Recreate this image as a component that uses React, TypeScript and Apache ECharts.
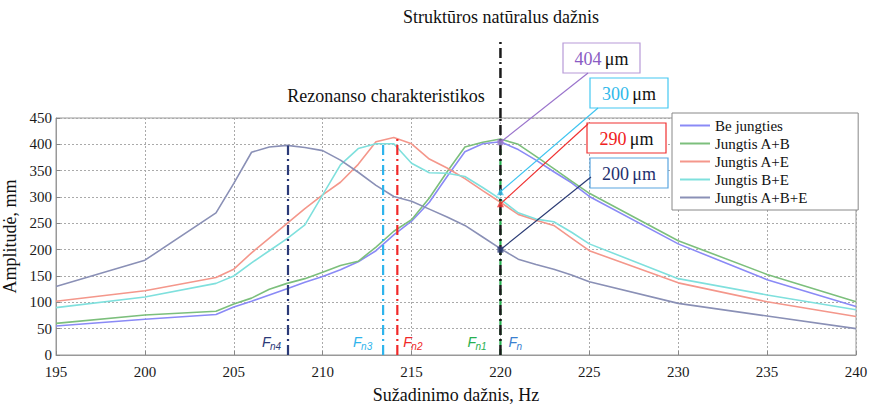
import React, { useEffect, useRef } from "react";
import * as echarts from "echarts";

const frequency = [195, 200, 204, 205, 206, 207, 208, 209, 210, 211, 212, 213, 214, 215, 216, 217, 218, 219, 220, 221, 222, 223, 224, 225, 230, 235, 240];
const beJungties = [55, 68, 77, 91, 102, 114, 126, 138, 149, 162, 177, 198, 228, 254, 290, 339, 386, 401, 405, 390, 370, 348, 327, 301, 211, 143, 92];
const jungtisAB = [60, 76, 83, 97, 108, 125, 136, 145, 157, 170, 178, 205, 235, 257, 298, 348, 395, 404, 410, 400, 377, 354, 330, 307, 217, 153, 101];
const jungtisAE = [102, 122, 147, 163, 194, 222, 250, 278, 304, 328, 362, 405, 413, 401, 372, 355, 335, 312, 290, 267, 256, 246, 222, 198, 137, 101, 73];
const jungtisBE = [90, 110, 136, 150, 175, 198, 221, 247, 304, 361, 392, 401, 401, 364, 346, 345, 339, 318, 296, 270, 258, 253, 233, 211, 145, 114, 86];
const jungtisABE = [130, 180, 270, 326, 385, 395, 398, 394, 388, 370, 347, 322, 301, 292, 277, 262, 246, 224, 202, 182, 172, 163, 152, 139, 98, 74, 50];

const seriesNames = ["Be jungties", "Jungtis A+B", "Jungtis A+E", "Jungtis B+E", "Jungtis A+B+E"];
const seriesColors = ["#8a8af6", "#7cbf7c", "#f4978b", "#7fe0dd", "#8a90b6"];
const seriesValues = [beJungties, jungtisAB, jungtisAE, jungtisBE, jungtisABE];

// resonance frequencies: label subscript, frequency, top amplitude
const resonanceNames = ["n4", "n3", "n2", "n1", "n"];
const resonanceFreq = [208.05, 213.4, 214.2, 220, 220];
const resonanceTop = [398, 401, 413, 410, 450];
const resonanceColors = ["#2b3a78", "#2fb4ec", "#f02828", "#28b050", "#1a1a1a"];
const resonanceLabelColors = ["#2b3a78", "#2fb4ec", "#f02828", "#28b050", "#3a80d0"];

// callouts at 220 Hz
const calloutValues = [404, 310, 287, 200];
const calloutTexts = ["404", "300", "290", "200"];
const calloutColors = ["#9a74cc", "#3ec4f0", "#f03030", "#2a3a74"];
const calloutTextColors = ["#8a5cc4", "#2fb8ea", "#f02020", "#1e2f6e"];
const calloutUnitColors = ["#111", "#111", "#111", "#1e2f6e"];
const calloutBorder = ["#b79ad8", "#45c8f2", "#f03030", "#5aa6e0"];
const calloutSymbols = ["rect", "triangle", "triangle", "rect"];

const SERIF = "Liberation Serif";
const SANS = "Liberation Sans";

export default function App() {
  const ref = useRef<HTMLDivElement>(null);
  useEffect(() => {
    if (!ref.current) return;
    const chart = echarts.init(ref.current, undefined, { renderer: "svg" });
    const dash = [10, 4, 2, 4];
    const series: any[] = seriesNames.map((name, i) => ({
      name,
      type: "line",
      symbol: "none",
      data: frequency.map((f, j) => [f, seriesValues[i][j]]),
      lineStyle: { color: seriesColors[i], width: 1.6 },
      itemStyle: { color: seriesColors[i] },
      z: 3,
    }));
    resonanceFreq.forEach((f, i) => {
      series.push({
        type: "line",
        symbol: "none",
        silent: true,
        data: [
          [f, 0],
          [f, resonanceTop[i]],
        ],
        lineStyle: { color: resonanceColors[i], width: i === 4 ? 2.5 : 2.2, type: i === 3 ? [6, 4] : dash },
        z: i === 4 ? 6 : 5,
      });
    });
    calloutValues.forEach((v, i) => {
      series.push({
        type: "scatter",
        silent: true,
        symbol: calloutSymbols[i],
        symbolSize: calloutSymbols[i] === "rect" ? 6 : 7,
        data: [[220, v]],
        itemStyle: { color: calloutColors[i] },
        z: 8,
      });
    });

    chart.setOption({
      animation: false,
      backgroundColor: "#fff",
      textStyle: { fontFamily: SERIF },
      grid: { left: 56, right: 18, top: 118, bottom: 56, show: true, borderColor: "#999", borderWidth: 1, containLabel: false, outerBoundsMode: "none" },
      xAxis: {
        type: "value",
        min: 195,
        max: 240,
        interval: 5,
        name: "Sužadinimo dažnis, Hz",
        nameLocation: "middle",
        nameGap: 31,
        nameTextStyle: { fontFamily: SERIF, fontSize: 18, color: "#111" },
        axisLine: { show: true, lineStyle: { color: "#999" } },
        axisTick: { show: true, inside: true, length: 4, lineStyle: { color: "#888" } },
        axisLabel: { fontFamily: SERIF, fontSize: 15, color: "#1a1a1a", margin: 9 },
        splitLine: { show: true, lineStyle: { color: "#aaa", type: [2, 2] } },
      },
      yAxis: {
        type: "value",
        min: 0,
        max: 450,
        interval: 50,
        name: "Amplitudė, mm",
        nameLocation: "middle",
        nameGap: 34,
        nameTextStyle: { fontFamily: SERIF, fontSize: 18, color: "#111" },
        axisLine: { show: true, lineStyle: { color: "#999" } },
        axisTick: { show: true, inside: true, length: 4, lineStyle: { color: "#888" } },
        axisLabel: { fontFamily: SERIF, fontSize: 15, color: "#1a1a1a", margin: 4 },
        splitLine: { show: true, lineStyle: { color: "#aaa", type: [2, 2] } },
      },
      legend: {
        data: seriesNames,
        orient: "vertical",
        left: 672,
        top: 113,
        itemWidth: 30,
        itemHeight: 14,
        itemGap: 3,
        padding: [5, 50, 5, 7],
        backgroundColor: "#fff",
        borderColor: "#888",
        borderWidth: 1,
        itemStyle: { opacity: 0 },
        textStyle: { fontFamily: SERIF, fontSize: 15, color: "#111" },
        z: 10,
      },
      series,
    });

    const graphics: any[] = [];
    graphics.push({
      type: "text",
      x: 501,
      y: 17,
      style: { text: "Struktūros natūralus dažnis", fontFamily: SERIF, fontSize: 18, fill: "#111", align: "center", verticalAlign: "middle" },
    });
    graphics.push({
      type: "text",
      x: 386,
      y: 96,
      style: { text: "Rezonanso charakteristikos", fontFamily: SERIF, fontSize: 18, fill: "#111", align: "center", verticalAlign: "middle" },
    });
    // extension of natural frequency line above the plot
    const topP = chart.convertToPixel({ gridIndex: 0 }, [220, 450]) as number[];
    graphics.push({
      type: "line",
      shape: { x1: topP[0], y1: topP[1], x2: topP[0], y2: 42 },
      style: { stroke: "#1a1a1a", lineWidth: 2.5, lineDash: dash },
      z: 6,
    });
    // resonance labels
    const labelOffsets = [-26, -30, 6, -33, 8];
    resonanceFreq.forEach((f, i) => {
      const p = chart.convertToPixel({ gridIndex: 0 }, [f, 24]) as number[];
      graphics.push({
        type: "group",
        x: p[0] + labelOffsets[i],
        y: p[1],
        z: 7,
        children: [
          { type: "text", x: 0, y: 0, style: { text: "F", fontFamily: SANS, fontStyle: "italic", fontSize: 14, fill: resonanceLabelColors[i], verticalAlign: "middle" } },
          { type: "text", x: 8, y: 4, style: { text: resonanceNames[i], fontFamily: SANS, fontStyle: "italic", fontSize: 10, fill: resonanceLabelColors[i], verticalAlign: "middle" } },
        ],
      });
    });
    // callouts
    const boxes = [
      { x: 563, y: 43, w: 77, h: 30, ax: 588, ay: 73 },
      { x: 590, y: 78, w: 78, h: 30, ax: 598, ay: 108 },
      { x: 587, y: 123, w: 79, h: 30, ax: 588, ay: 124 },
      { x: 590, y: 158, w: 78, h: 30, ax: 591, ay: 177 },
    ];
    calloutValues.forEach((v, i) => {
      const p = chart.convertToPixel({ gridIndex: 0 }, [220, v]) as number[];
      const b = boxes[i];
      graphics.push({
        type: "line",
        shape: { x1: p[0], y1: p[1], x2: b.ax, y2: b.ay },
        style: { stroke: calloutColors[i], lineWidth: 1.2 },
        z: 7,
      });
      graphics.push({
        type: "group",
        x: b.x,
        y: b.y,
        z: 9,
        children: [
          { type: "rect", shape: { x: 0, y: 0, width: b.w, height: b.h }, style: { fill: "#fff", stroke: calloutBorder[i], lineWidth: 1.2 } },
          {
            type: "text",
            x: b.w / 2,
            y: b.h / 2 + 1,
            style: {
              text: `{v|${calloutTexts[i]}} {u|μm}`,
              align: "center",
              verticalAlign: "middle",
              rich: {
                v: { fontFamily: SERIF, fontSize: 18, fill: calloutTextColors[i] },
                u: { fontFamily: SERIF, fontSize: 18, fill: calloutUnitColors[i] },
              },
            },
          },
        ],
      });
    });
    chart.setOption({ graphic: graphics });
    return () => chart.dispose();
  }, []);
  return <div ref={ref} style={{ position: "absolute", left: 0, top: 0, width: 874, height: 411 }} />;
}
